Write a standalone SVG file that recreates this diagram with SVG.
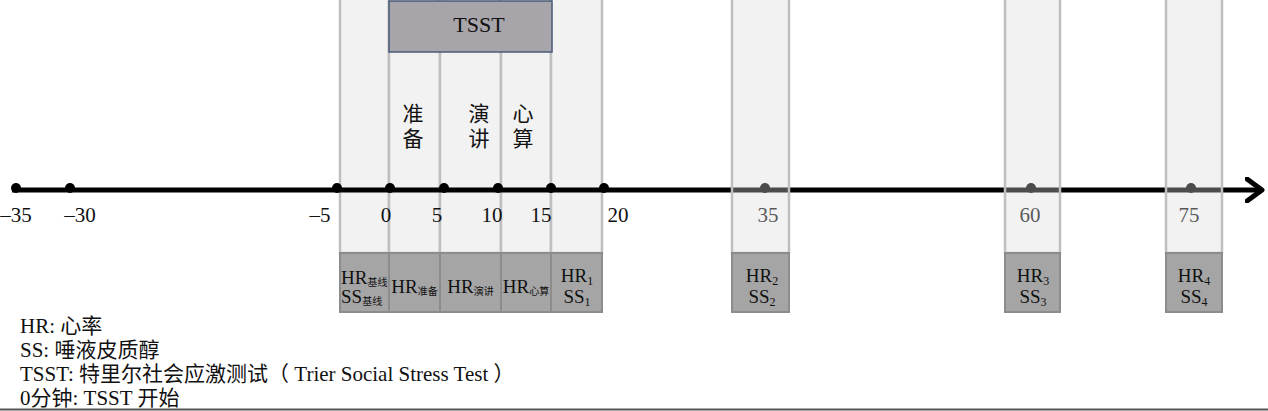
<svg xmlns="http://www.w3.org/2000/svg" width="1268" height="411" viewBox="0 0 1268 411">
<style>
text{font-family:"Liberation Serif","Noto Sans CJK SC",serif;fill:#111}
.col{fill:#f2f2f2;stroke:#bfbfbf;stroke-width:2.5}
.colo{fill:#dadada;fill-opacity:0.35;stroke:#bfbfbf;stroke-width:2.5}
.box{fill:#a5a5a5;stroke:#8c8c8c;stroke-width:2}
.num{font-size:21px;text-anchor:middle}
.lbl{font-size:19px;text-anchor:middle}
.sub{font-size:10px}
.subn{font-size:12px}
.cjk{font-size:21px;text-anchor:middle}
.leg{font-size:21px}
.dot{fill:#000}
</style>
<defs>
<marker id="arr" markerUnits="userSpaceOnUse" viewBox="0 0 20 26" refX="17" refY="13" markerWidth="20" markerHeight="26" orient="auto">
<path d="M2,2 L17,13 L2,24" fill="none" stroke="#000" stroke-width="5" stroke-linecap="round" stroke-linejoin="round"/>
</marker>
</defs>
<rect width="1268" height="411" fill="#fff"/>

<g id="tsst-phase-columns">
<rect class="col" x="340" y="-3" width="49" height="256"/>
<rect class="col" x="389" y="-3" width="51" height="256"/>
<rect class="col" x="440" y="-3" width="61" height="256"/>
<rect class="col" x="501" y="-3" width="50" height="256"/>
<rect class="col" x="551" y="-3" width="51" height="256"/>
</g>

<g id="tsst">
<rect x="389" y="1" width="163" height="51" fill="#a7a5aa" stroke="#4a5a78" stroke-width="1.5"/>
<text x="479" y="32" font-size="22" text-anchor="middle">TSST</text>
</g>

<g id="phase-labels">
<text class="cjk" x="413" y="121">准</text>
<text class="cjk" x="413" y="146">备</text>
<text class="cjk" x="479" y="121">演</text>
<text class="cjk" x="479" y="146">讲</text>
<text class="cjk" x="523" y="121">心</text>
<text class="cjk" x="523" y="146">算</text>
</g>

<g id="connectors">
<line x1="12" y1="190" x2="1262" y2="190" stroke="#000" stroke-width="5" marker-end="url(#arr)"/>
<circle class="dot" cx="16" cy="188" r="5"/>
<circle class="dot" cx="70" cy="188" r="5"/>
<circle class="dot" cx="337" cy="188" r="5"/>
<circle class="dot" cx="390" cy="188" r="5"/>
<circle class="dot" cx="444" cy="188" r="5"/>
<circle class="dot" cx="498" cy="188" r="5"/>
<circle class="dot" cx="551" cy="188" r="5"/>
<circle class="dot" cx="604" cy="188" r="5"/>
<circle class="dot" cx="765" cy="188" r="5"/>
<circle class="dot" cx="1031" cy="188" r="5"/>
<circle class="dot" cx="1191" cy="188" r="5"/>
</g>

<g id="tick-labels">
<text class="num" x="16" y="222">–35</text>
<text class="num" x="80" y="222">–30</text>
<text class="num" x="320" y="222">–5</text>
<text class="num" x="386" y="222">0</text>
<text class="num" x="437" y="222">5</text>
<text class="num" x="492" y="222">10</text>
<text class="num" x="541" y="222">15</text>
<text class="num" x="618" y="222">20</text>
<text class="num" x="768" y="222">35</text>
<text class="num" x="1030" y="222">60</text>
<text class="num" x="1189" y="222">75</text>
</g>

<g id="later-columns">
<rect class="colo" x="732" y="-3" width="57" height="256"/>
<rect class="colo" x="1005" y="-3" width="55" height="256"/>
<rect class="colo" x="1166" y="-3" width="56" height="256"/>
</g>

<g id="m-baseline">
<rect class="box" x="340" y="253" width="49" height="59"/>
<text x="341" y="284" font-size="19">HR<tspan class="sub" dy="2">基线</tspan></text>
<text x="341" y="303" font-size="19">SS<tspan class="sub" dy="2">基线</tspan></text>
</g>
<g id="m-prep">
<rect class="box" x="389" y="253" width="51" height="59"/>
<text class="lbl" x="414.5" y="293">HR<tspan class="sub" dy="2">准备</tspan></text>
</g>
<g id="m-speech">
<rect class="box" x="440" y="253" width="61" height="59"/>
<text class="lbl" x="470.5" y="293">HR<tspan class="sub" dy="2">演讲</tspan></text>
</g>
<g id="m-math">
<rect class="box" x="501" y="253" width="50" height="59"/>
<text class="lbl" x="526" y="293">HR<tspan class="sub" dy="2">心算</tspan></text>
</g>
<g id="m-1">
<rect class="box" x="551" y="253" width="51" height="59"/>
<text class="lbl" x="577" y="282">HR<tspan class="subn" dy="3">1</tspan></text>
<text class="lbl" x="577" y="303">SS<tspan class="subn" dy="3">1</tspan></text>
</g>
<g id="m-2">
<rect class="box" x="732" y="253" width="57" height="59"/>
<text class="lbl" x="762" y="282">HR<tspan class="subn" dy="3">2</tspan></text>
<text class="lbl" x="762" y="303">SS<tspan class="subn" dy="3">2</tspan></text>
</g>
<g id="m-3">
<rect class="box" x="1005" y="253" width="55" height="59"/>
<text class="lbl" x="1033" y="282">HR<tspan class="subn" dy="3">3</tspan></text>
<text class="lbl" x="1033" y="303">SS<tspan class="subn" dy="3">3</tspan></text>
</g>
<g id="m-4">
<rect class="box" x="1166" y="253" width="56" height="59"/>
<text class="lbl" x="1194" y="282">HR<tspan class="subn" dy="3">4</tspan></text>
<text class="lbl" x="1194" y="303">SS<tspan class="subn" dy="3">4</tspan></text>
</g>

<g id="legend">
<text class="leg" x="20" y="333">HR: 心率</text>
<text class="leg" x="20" y="357">SS: 唾液皮质醇</text>
<text class="leg" x="20" y="381">TSST: 特里尔社会应激测试（ Trier Social Stress Test ）</text>
<text class="leg" x="20" y="405">0分钟: TSST 开始</text>
</g>
<line x1="0" y1="409.5" x2="1268" y2="409.5" stroke="#555" stroke-width="2"/>
</svg>
